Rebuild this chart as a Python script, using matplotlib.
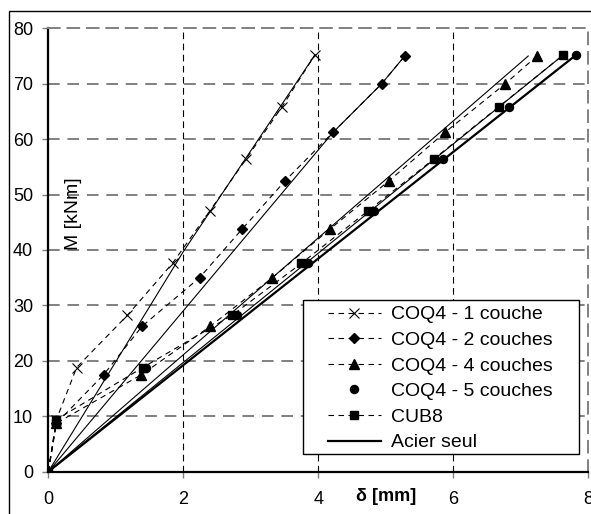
import matplotlib
matplotlib.use('Agg')
import matplotlib.pyplot as plt
from matplotlib.patches import Rectangle

plt.rcParams['font.family'] = ['Liberation Sans', 'DejaVu Sans']

# FE results (moment M [kNm] vs deflection delta [mm])
coq1_x = [0, 0.12, 0.42, 1.17, 1.84, 2.39, 2.93, 3.46, 3.95]
coq1_y = [0, 9.4, 18.8, 28.2, 37.6, 47.0, 56.4, 65.8, 75.2]
coq2_x = [0, 0.12, 0.82, 1.39, 2.24, 2.87, 3.51, 4.22, 4.94, 5.28]
coq2_y = [0, 8.75, 17.5, 26.25, 35.0, 43.75, 52.5, 61.25, 70.0, 75.0]
coq4_x = [0, 0.12, 1.38, 2.40, 3.32, 4.17, 5.05, 5.88, 6.77, 7.24]
coq4_y = [0, 8.75, 17.5, 26.25, 35.0, 43.75, 52.5, 61.25, 70.0, 75.0]
coq5_x = [0, 0.12, 1.45, 2.80, 3.85, 4.83, 5.85, 6.83, 7.82]
coq5_y = [0, 9.4, 18.8, 28.2, 37.6, 47.0, 56.4, 65.8, 75.2]
cub8_x = [0, 0.12, 1.40, 2.72, 3.75, 4.73, 5.71, 6.67, 7.63]
cub8_y = [0, 9.4, 18.8, 28.2, 37.6, 47.0, 56.4, 65.8, 75.2]

# reference lines (thin solid)
ref1_x = [0, 2.0, 3.95]
ref1_y = [0, 39.7, 75.2]
ref2_x = [0, 4.22, 4.94, 5.28]
ref2_y = [0, 61.25, 70.0, 75.0]
ref4_x = [0, 7.11]
ref4_y = [0, 75.0]
ref8_x = [0, 7.63]
ref8_y = [0, 75.2]

# steel alone
acier_x = [0, 7.82]
acier_y = [0, 75.2]

fig = plt.figure(figsize=(5.91, 5.14), dpi=100)
# chart area border (right/bottom edges fall outside the image)
fig.patches.append(Rectangle((9 / 591, -0.05), 1.0, 503 / 514 + 0.05,
                             transform=fig.transFigure, fill=False,
                             edgecolor='black', lw=1.0))
ax = fig.add_axes([48.3 / 591, 42.3 / 514, 540 / 591, 443.4 / 514])

dash = (0, (5, 4))
thin = 0.8

# grid
for yv in range(10, 80, 10):
    ax.axhline(yv, color='#808080', lw=1.4, ls=(0, (6, 4)), zorder=0)
for xv in [2, 4, 6]:
    ax.axvline(xv, color='black', lw=0.8, ls=(0, (6, 4)), zorder=0)

# reference solid lines
for rx, ry in [(ref1_x, ref1_y), (ref2_x, ref2_y), (ref4_x, ref4_y), (ref8_x, ref8_y)]:
    ax.plot(rx, ry, color='black', lw=thin, zorder=2)

ax.plot(coq1_x, coq1_y, color='black', ls=dash, lw=thin, marker='x', ms=7,
        mew=0.8, label='COQ4 - 1 couche', zorder=3)
ax.plot(coq2_x, coq2_y, color='black', ls=dash, lw=thin, marker='D', ms=5.2,
        label='COQ4 - 2 couches', zorder=3)
ax.plot(coq4_x, coq4_y, color='black', ls=dash, lw=thin, marker='^', ms=7,
        label='COQ4 - 4 couches', zorder=3)
ax.plot(coq5_x, coq5_y, color='black', ls='none', marker='o', ms=5.8,
        label='COQ4 - 5 couches', zorder=3)
ax.plot(cub8_x, cub8_y, color='black', ls=dash, lw=thin, marker='s', ms=5.8,
        label='CUB8', zorder=3)
ax.plot(acier_x, acier_y, color='black', lw=1.6, label='Acier seul', zorder=2)

ax.set_xlim(0, 8)
ax.set_ylim(0, 80)
ax.set_xticks([0, 2, 4, 6, 8])
ax.set_yticks(range(0, 90, 10))
ax.tick_params(direction='out', length=4, width=1, color='#808080',
               labelsize=13)
ax.tick_params(axis='y', pad=7)
ax.tick_params(axis='x', pad=10)

for s in ['left', 'bottom']:
    ax.spines[s].set_linewidth(1.6)
    ax.spines[s].set_color('black')
for s in ['top', 'right']:
    ax.spines[s].set_linewidth(1.4)
    ax.spines[s].set_color('#808080')
    ax.spines[s].set_linestyle((0, (6, 4)))

ax.set_xlabel('δ [mm]', fontsize=13, fontweight='bold')
ax.xaxis.label.set_va('center')
ax.xaxis.set_label_coords(0.625, -0.057)
ax.text(0.046, 0.581, 'M [kNm]', transform=ax.transAxes, rotation=90,
        ha='center', va='center', fontsize=14)

# legend box drawn separately (wide horizontal padding)
ax.add_patch(Rectangle((0.472, 0.040), 0.511, 0.347, transform=ax.transAxes,
                       facecolor='white', edgecolor='black', lw=1.0, zorder=4))
leg = ax.legend(loc='upper left', bbox_to_anchor=(0.518, 0.374),
                borderaxespad=0, fontsize=14, numpoints=1, frameon=False,
                handlelength=2.7, handletextpad=0.55, labelspacing=0.41,
                borderpad=0)
leg.set_zorder(5)

fig.savefig('out.png', dpi=100)
